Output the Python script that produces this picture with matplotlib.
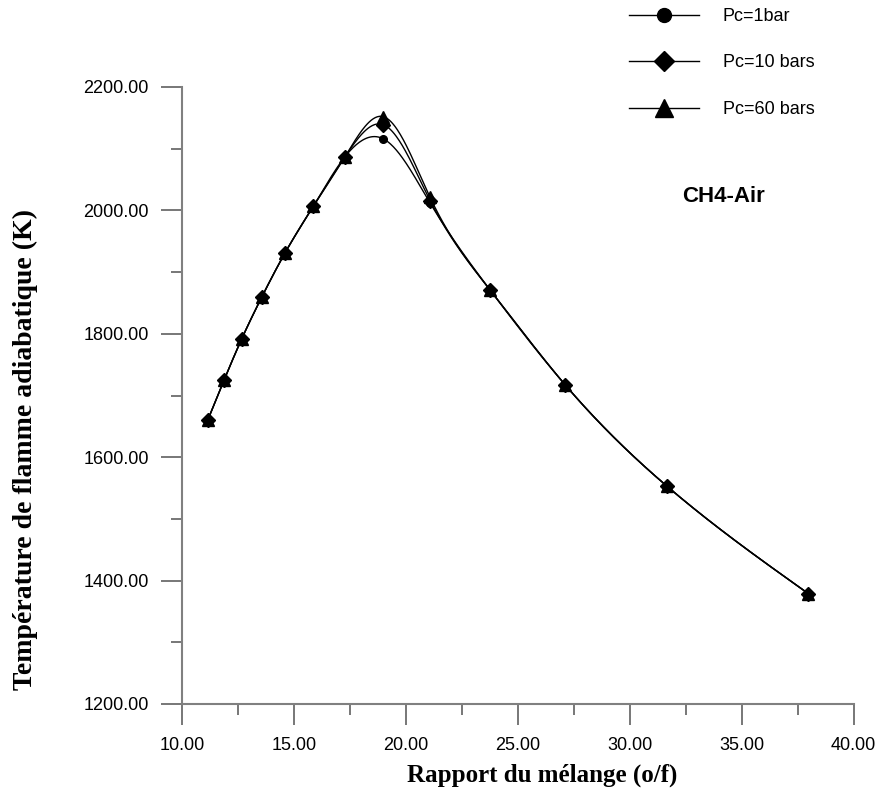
import matplotlib
matplotlib.use("Agg")
import matplotlib.pyplot as plt
from matplotlib.lines import Line2D
from matplotlib.ticker import MultipleLocator, FormatStrFormatter
import numpy as np

# rapport o/f
of_ratio = np.array([11.16, 11.88, 12.67, 13.57, 14.60, 15.87, 17.28, 18.99,
                     21.08, 23.76, 27.12, 31.66, 37.97])
# temperatures de flamme adiabatique (K)
T_1bar = np.array([1661, 1725, 1792, 1860, 1931, 2007, 2087, 2116,
                   2012, 1871, 1717, 1553, 1379])
T_10bar = np.array([1661, 1725, 1792, 1860, 1931, 2007, 2087, 2139,
                    2016, 1871, 1717, 1553, 1379])
T_60bar = np.array([1661, 1725, 1792, 1860, 1931, 2007, 2087, 2152,
                    2021, 1871, 1717, 1553, 1379])
labels = ["Pc=1bar", "Pc=10 bars", "Pc=60 bars"]


def spline(x, y, xs):
    # spline cubique naturelle
    n = len(x)
    h = np.diff(x)
    A = np.zeros((n, n))
    r = np.zeros(n)
    A[0, 0] = A[-1, -1] = 1
    for i in range(1, n - 1):
        A[i, i - 1] = h[i - 1]
        A[i, i] = 2 * (h[i - 1] + h[i])
        A[i, i + 1] = h[i]
        r[i] = 6 * ((y[i + 1] - y[i]) / h[i] - (y[i] - y[i - 1]) / h[i - 1])
    M = np.linalg.solve(A, r)
    k = np.clip(np.searchsorted(x, xs) - 1, 0, n - 2)
    t0 = x[k + 1] - xs
    t1 = xs - x[k]
    hk = h[k]
    return (M[k] * t0**3 / (6 * hk) + M[k + 1] * t1**3 / (6 * hk)
            + (y[k] / hk - M[k] * hk / 6) * t0
            + (y[k + 1] / hk - M[k + 1] * hk / 6) * t1)


fig = plt.figure(figsize=(8.82, 7.96), dpi=100)
ax = fig.add_axes([182 / 882, 1 - 704 / 796, (853.7 - 182) / 882, (704 - 87) / 796])

xs = np.linspace(of_ratio[0], of_ratio[-1], 600)
for T in (T_1bar, T_60bar, T_10bar):
    ax.plot(xs, spline(of_ratio, T.astype(float), xs), color="black", lw=1.0)

ax.plot(of_ratio, T_1bar, "o", color="black", ms=5.5, ls="none")
ax.plot(of_ratio, T_60bar, "^", color="black", ms=8, ls="none")
ax.plot(of_ratio, T_10bar, "D", color="black", ms=7, ls="none")

ax.set_xlim(10, 40)
ax.set_ylim(1200, 2200)
ax.xaxis.set_major_locator(MultipleLocator(5))
ax.xaxis.set_minor_locator(MultipleLocator(2.5))
ax.yaxis.set_major_locator(MultipleLocator(200))
ax.yaxis.set_minor_locator(MultipleLocator(100))
ax.xaxis.set_major_formatter(FormatStrFormatter("%.2f"))
ax.yaxis.set_major_formatter(FormatStrFormatter("%.2f"))

for s in ("top", "right"):
    ax.spines[s].set_visible(False)
for s in ("left", "bottom"):
    ax.spines[s].set_color("#808080")
    ax.spines[s].set_linewidth(1.5)
ax.tick_params(which="major", length=15, width=1.2, color="#606060",
               labelsize=13, pad=9)
ax.tick_params(which="minor", length=8, width=1.2, color="#606060")
for lab in ax.get_xticklabels() + ax.get_yticklabels():
    lab.set_fontfamily("Liberation Sans")

ax.set_xlabel("Rapport du mélange (o/f)", fontsize=18, fontweight="bold",
              fontfamily="Liberation Serif")
ax.xaxis.set_label_coords((542 - 182) / (853.7 - 182), -(764 - 704) / 617)
ax.set_ylabel("Température de flamme adiabatique (K)", fontsize=20,
              fontweight="bold", fontfamily="Liberation Serif")
ax.yaxis.set_label_coords(-(182 - 38) / (853.7 - 182), (704 - 450) / 617)

ax.text(682 / 882, 1 - 196 / 796, "CH4-Air", transform=fig.transFigure, fontsize=16,
        fontweight="bold", fontfamily="Liberation Sans", va="center", ha="left")

handles = [
    Line2D([], [], color="black", lw=1, marker="o", ms=10),
    Line2D([], [], color="black", lw=1, marker="D", ms=10),
    Line2D([], [], color="black", lw=1, marker="^", ms=13),
]
fig.legend(handles, labels, loc="upper left", bbox_to_anchor=(629 / 882, 1 - 8 / 796),
           frameon=False, borderpad=0, borderaxespad=0, handlelength=3.9,
           handletextpad=1.3, labelspacing=1.63,
           prop={"family": "Liberation Sans", "size": 13})

fig.savefig("out.png", dpi=100)
